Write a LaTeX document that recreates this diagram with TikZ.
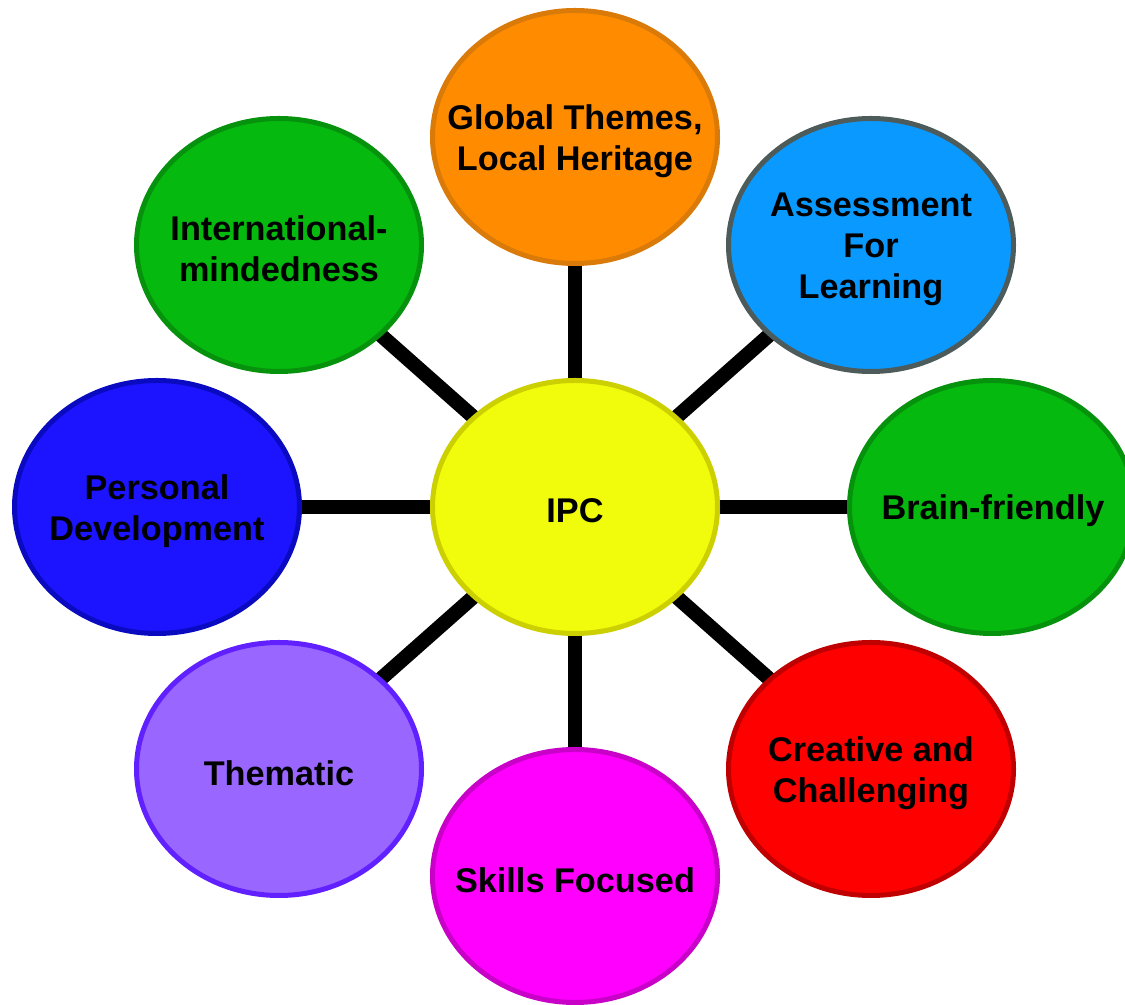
\documentclass[tikz,border=0pt]{standalone}
\usepackage{fontspec}
\setmainfont{Liberation Sans}
\usetikzlibrary{shapes.geometric,backgrounds}
\definecolor{ipcFill}{HTML}{F0FC0C}
\definecolor{ipcLine}{HTML}{CCD000}
\definecolor{orangeFill}{HTML}{FF8C00}
\definecolor{orangeLine}{HTML}{DA7A08}
\definecolor{blueFill}{HTML}{0A99FF}
\definecolor{blueLine}{HTML}{4D5B5B}
\definecolor{greenFill}{HTML}{05B90F}
\definecolor{greenLine}{HTML}{07920E}
\definecolor{redFill}{HTML}{FF0000}
\definecolor{redLine}{HTML}{C00000}
\definecolor{pinkFill}{HTML}{FF00FF}
\definecolor{pinkLine}{HTML}{C800C8}
\definecolor{violetFill}{HTML}{9966FF}
\definecolor{violetLine}{HTML}{6020FF}
\definecolor{navyFill}{HTML}{1C14FF}
\definecolor{navyLine}{HTML}{0A0AC0}
\tikzset{
  ipcBubble/.style n args={2}{ellipse, fill=#1, draw=#2, line width=1mm,
    minimum width=57mm, minimum height=50.6mm, inner sep=0pt},
  ipcText/.style={text=black, font=\bfseries\fontsize{19.5}{23.3}\selectfont, align=center, yshift=-0.8mm},
  ipcSpoke/.style={draw=black, line width=2.9mm}
}

\begin{document}
\begin{tikzpicture}[x=0.2mm, y=-0.2mm]
  \useasboundingbox (0,0) rectangle (1125,1005);

  \node[ipcBubble={ipcFill}{ipcLine}] (ipc) at (575,507) {};
  \node[ipcBubble={orangeFill}{orangeLine}] (global) at (575,137) {};
  \node[ipcBubble={blueFill}{blueLine}] (assess) at (871,245) {};
  \node[ipcBubble={greenFill}{greenLine}] (brain) at (992,507) {};
  \node[ipcBubble={redFill}{redLine}] (creative) at (871,769) {};
  \node[ipcBubble={pinkFill}{pinkLine}] (skills) at (575,876) {};
  \node[ipcBubble={violetFill}{violetLine}] (thematic) at (279,769) {};
  \node[ipcBubble={navyFill}{navyLine}] (personal) at (157,507) {};
  \node[ipcBubble={greenFill}{greenLine}] (intl) at (279,245) {};

  \begin{scope}[on background layer]
    \draw[ipcSpoke] (ipc.center) -- (global.center);
    \draw[ipcSpoke] (ipc.center) -- (assess.center);
    \draw[ipcSpoke] (ipc.center) -- (brain.center);
    \draw[ipcSpoke] (ipc.center) -- (creative.center);
    \draw[ipcSpoke] (ipc.center) -- (skills.center);
    \draw[ipcSpoke] (ipc.center) -- (thematic.center);
    \draw[ipcSpoke] (ipc.center) -- (personal.center);
    \draw[ipcSpoke] (ipc.center) -- (intl.center);
  \end{scope}

  \node[ipcText] (ipcT) at (ipc) {IPC};
  \node[ipcText] (globalT) at (global) {Global Themes,\\Local Heritage};
  \node[ipcText] (assessT) at (assess) {Assessment\\For\\Learning};
  \node[ipcText] (brainT) at (993,507) {Brain-friendly};
  \node[ipcText] (creativeT) at (creative) {Creative and\\Challenging};
  \node[ipcText] (skillsT) at (skills) {Skills Focused};
  \node[ipcText] (thematicT) at (thematic) {Thematic};
  \node[ipcText] (personalT) at (personal) {Personal\\Development};
  \node[ipcText] (intlT) at (intl) {International-\\mindedness};
\end{tikzpicture}
\end{document}
